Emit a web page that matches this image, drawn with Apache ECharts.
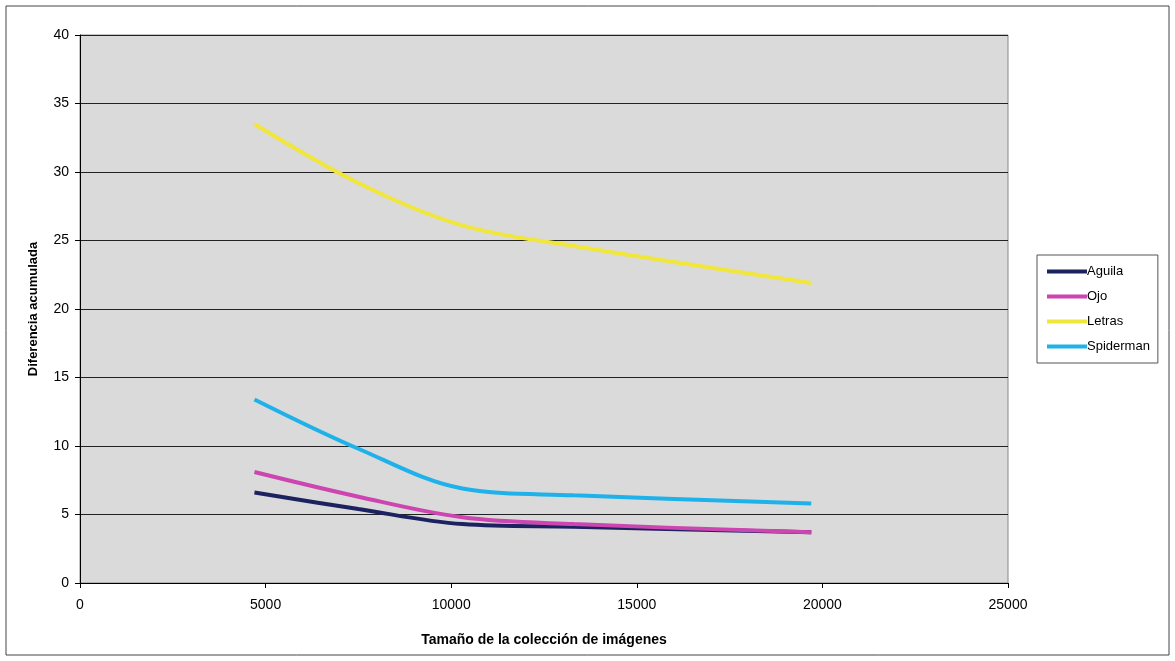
<!DOCTYPE html>
<html>
<head>
    <meta charset="utf-8">
    <title>Diferencia acumulada</title>
    <script src="https://cdn.jsdelivr.net/npm/echarts@6/dist/echarts.min.js"></script>
    <style>
        html, body { margin: 0; padding: 0; background: #fff; }
        #main { width: 1175px; height: 661px; }
    </style>
</head>
<body>
<div id="main"></div>
<script>
    // tamaños de la colección (eje x)
    var tamanos = [4700, 7500, 10300, 13300, 19700];
    // diferencia acumulada por imagen
    var aguila = [6.6, 5.4, 4.3, 4.1, 3.7];
    var ojo = [8.1, 6.3, 4.8, 4.3, 3.7];
    var letras = [33.5, 29.2, 26.1, 24.6, 21.9];
    var spiderman = [13.4, 9.8, 6.9, 6.4, 5.8];

    var chart = echarts.init(document.getElementById('main'));

    function pares(ys) {
        var out = [];
        for (var i = 0; i < tamanos.length; i++) {
            out.push([tamanos[i], ys[i]]);
        }
        return out;
    }

    function serie(nombre, ys, color) {
        return {
            name: nombre,
            type: 'line',
            smooth: 0.35,
            symbol: 'none',
            lineStyle: { width: 4, color: color },
            itemStyle: { color: color },
            data: pares(ys)
        };
    }

    var option = {
        backgroundColor: '#fff',
        textStyle: { fontFamily: 'Liberation Sans, Arial, sans-serif' },
        graphic: [{
            type: 'rect',
            shape: { x: 6, y: 6, width: 1163, height: 649 },
            style: { fill: 'none', stroke: '#444', lineWidth: 1 },
            silent: true
        }],
        grid: {
            left: 80, right: 167, top: 35, bottom: 78,
            show: true,
            backgroundColor: '#dadada',
            borderColor: '#888',
            borderWidth: 1
        },
        legend: {
            orient: 'vertical',
            left: 1037, top: 255,
            icon: 'rect',
            itemWidth: 40, itemHeight: 4,
            itemGap: 12,
            padding: [10, 8, 10, 10],
            borderColor: '#555', borderWidth: 1,
            backgroundColor: '#fff',
            textStyle: { fontSize: 13, color: '#000', padding: [0, 0, 0, -5] },
            data: ['Aguila', 'Ojo', 'Letras', 'Spiderman']
        },
        xAxis: {
            type: 'value',
            min: 0, max: 25000, interval: 5000,
            name: 'Tamaño de la colección de imágenes',
            nameLocation: 'middle',
            nameGap: 50,
            nameTextStyle: { fontSize: 14, fontWeight: 'bold', color: '#000' },
            axisLine: { show: true, lineStyle: { color: '#000' } },
            axisTick: { show: true, length: 5, lineStyle: { color: '#000' } },
            axisLabel: { fontSize: 14, color: '#000', margin: 15, formatter: function (v) { return String(v); } },
            splitLine: { show: false }
        },
        yAxis: {
            type: 'value',
            min: 0, max: 40, interval: 5,
            name: 'Diferencia acumulada',
            nameLocation: 'middle',
            nameGap: 40,
            nameTextStyle: { fontSize: 13, fontWeight: 'bold', color: '#000' },
            axisLine: { show: true, lineStyle: { color: '#000' } },
            axisTick: { show: true, length: 5, lineStyle: { color: '#000' } },
            axisLabel: { fontSize: 14, color: '#000', margin: 11 },
            splitLine: { show: true, lineStyle: { color: '#222', width: 1 } }
        },
        series: [
            serie('Aguila', aguila, '#1c2160'),
            serie('Ojo', ojo, '#cc45b0'),
            serie('Letras', letras, '#f0e63c'),
            serie('Spiderman', spiderman, '#1fb2ea')
        ]
    };

    chart.setOption(option);
</script>
</body>
</html>
